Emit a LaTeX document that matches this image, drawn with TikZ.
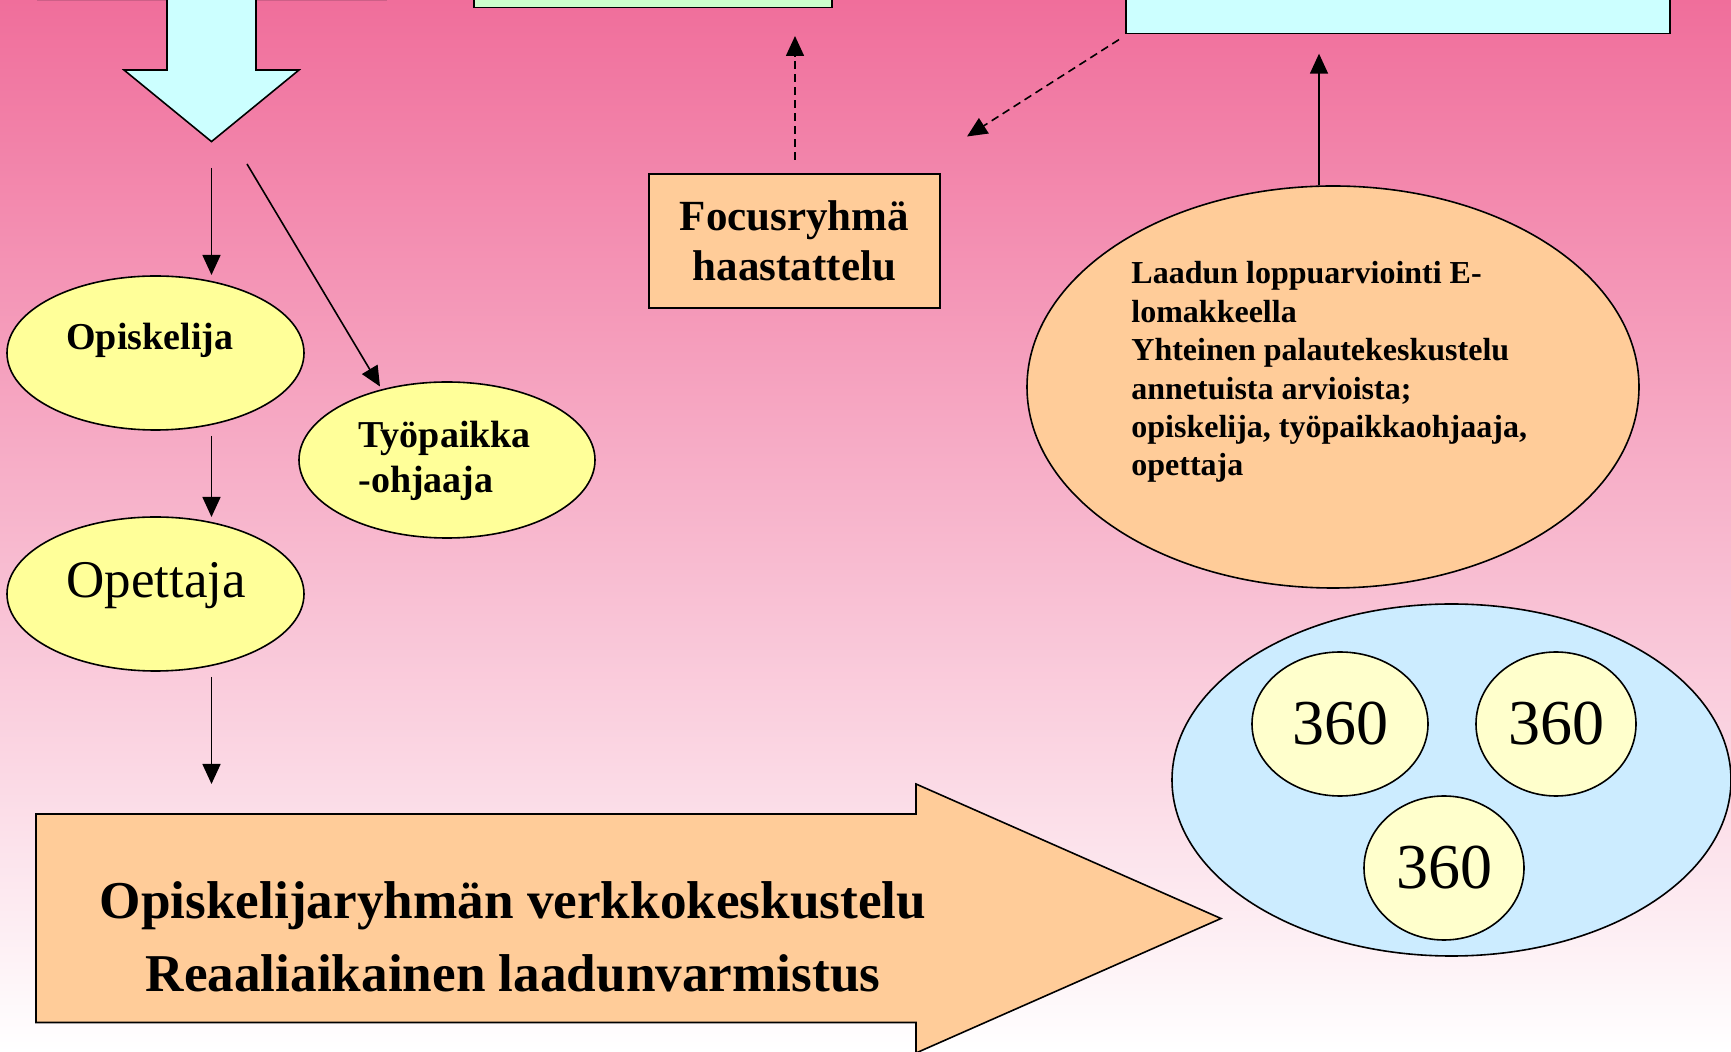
\documentclass[tikz,border=0pt]{standalone}
\usepackage{fontspec}
\setmainfont{Liberation Serif}
\usetikzlibrary{shapes.geometric,arrows.meta}
\definecolor{pinktop}{RGB}{240,110,155}
\definecolor{cyanbox}{HTML}{CCFFFF}
\definecolor{greenbox}{HTML}{CCFFCC}
\definecolor{orangefill}{HTML}{FFCC99}
\definecolor{yellowfill}{HTML}{FFFF99}
\definecolor{paleyellow}{HTML}{FFFFCC}
\definecolor{bluefill}{HTML}{CCECFF}
\definecolor{faintline}{RGB}{205,95,135}
\begin{document}
\begin{tikzpicture}[x=0.5pt,y=-0.5pt,
  arr/.style={-{Triangle[length=10pt,width=9pt]}, line width=0.8pt},
  dasharr/.style={arr, dash pattern=on 4pt off 2.5pt},
  ell/.style={ellipse, draw, line width=0.8pt, inner sep=0pt},
  shp/.style={draw, line width=0.8pt, line join=miter},
  boxn/.style={shp, rectangle, inner sep=0pt},
  smalltxt/.style={font=\fontsize{19}{22.5}\selectfont\bfseries, align=left, inner sep=0pt},
  focustxt/.style={font=\fontsize{21.5}{25}\selectfont\bfseries, align=center},
  ovaltxt/.style={font=\fontsize{16}{19.2}\selectfont\bfseries, align=left, inner sep=0pt},
  bigtxt/.style={font=\fontsize{26.6}{36.5}\selectfont\bfseries, align=center, inner sep=0pt},
  numtxt/.style={font=\fontsize{32}{36}\selectfont}
]
\clip (0,0) rectangle (1731,1052);
\shade[top color=pinktop, bottom color=white] (0,0) rectangle (1731,1052);

% faint edge at top left
\draw[faintline, line width=1pt] (37,0.5) -- (387,0.5);

% top boxes (cut off)
\node[boxn, fill=greenbox, anchor=south west, minimum width=179pt, minimum height=60pt] (green) at (473,8.4) {};
\node[boxn, fill=cyanbox, anchor=south west, minimum width=272pt, minimum height=60pt] (cyantop) at (1125,34.5) {};

% down block arrow
\draw[shp, fill=cyanbox] (167,-50) -- (256,-50) -- (256,70) -- (299,70) -- (211.5,141.6) -- (124,70) -- (167,70) -- cycle;

% right block arrow
\draw[shp, fill=orangefill] (36,814) -- (916,814) -- (916,784) -- (1221,918.5) -- (916,1053) -- (916,1022.5) -- (36,1022.5) -- cycle;
\node[bigtxt, anchor=base] (bigt) at (513,992) {Opiskelijaryhmän verkkokeskustelu\\Reaaliaikainen laadunvarmistus};

% focus box
\node[boxn, fill=orangefill, minimum width=145.5pt, minimum height=67pt, focustxt] (focus) at (794.5,241) {Focusryhmä\\haastattelu};

% left ellipses
\node[ell, fill=yellowfill, minimum width=148.5pt, minimum height=77pt] (opisk) at (155.5,353) {};
\node[smalltxt, anchor=base west] (opiskt) at (66,350) {Opiskelija};
\node[ell, fill=yellowfill, minimum width=148pt, minimum height=78pt] (tyo) at (447,460) {};
\node[smalltxt, anchor=base west] (tyot) at (358,493) {Työpaikka\\-ohjaaja};
\node[ell, fill=yellowfill, minimum width=148.5pt, minimum height=77pt] (opett) at (155.5,594) {};
\node[font=\fontsize{26.5}{30}\selectfont, inner sep=0pt, anchor=base] (opettt) at (156,598) {Opettaja};

% big orange ellipse
\node[ell, fill=orangefill, minimum width=306pt, minimum height=201pt] (oe) at (1333,387) {};
\node[ovaltxt, anchor=base west] (oet) at (1131,476) {Laadun loppuarviointi E-\\lomakkeella\\Yhteinen palautekeskustelu\\annetuista arvioista;\\opiskelija, työpaikkaohjaaja,\\opettaja};

% blue ellipse with 360s
\node[ell, fill=bluefill, minimum width=279.5pt, minimum height=176pt] (blue) at (1451.5,780) {};
\node[ell, fill=paleyellow, minimum width=88pt, minimum height=72pt, numtxt] (n1) at (1340,724) {360};
\node[ell, fill=paleyellow, minimum width=80pt, minimum height=72pt, numtxt] (n2) at (1556,724) {360};
\node[ell, fill=paleyellow, minimum width=80pt, minimum height=72pt, numtxt] (n3) at (1444,868) {360};

% connector end points
\coordinate (a1s) at (211.5,168);
\coordinate (a1e) at (211.5,275);
\coordinate (a2s) at (247,164);
\coordinate (a2e) at (380,386.5);
\coordinate (a3s) at (211.5,436);
\coordinate (a3e) at (211.5,517);
\coordinate (a4s) at (211.5,677);
\coordinate (a4e) at (211.5,784);
\coordinate (d1s) at (795,160);
\coordinate (d1e) at (795,36);
\coordinate (d2s) at (1119,39.6);
\coordinate (d2e) at (967,136.5);
\coordinate (u1s) at (1319,185.5);
\coordinate (u1e) at (1319,53.7);

\draw[arr] (a1s) -- (a1e);
\draw[arr] (a2s) -- (a2e);
\draw[arr] (a3s) -- (a3e);
\draw[arr] (a4s) -- (a4e);
\draw[dasharr] (d1s) -- (d1e);
\draw[dasharr] (d2s) -- (d2e);
\draw[arr] (u1s) -- (u1e);
\end{tikzpicture}
\end{document}
